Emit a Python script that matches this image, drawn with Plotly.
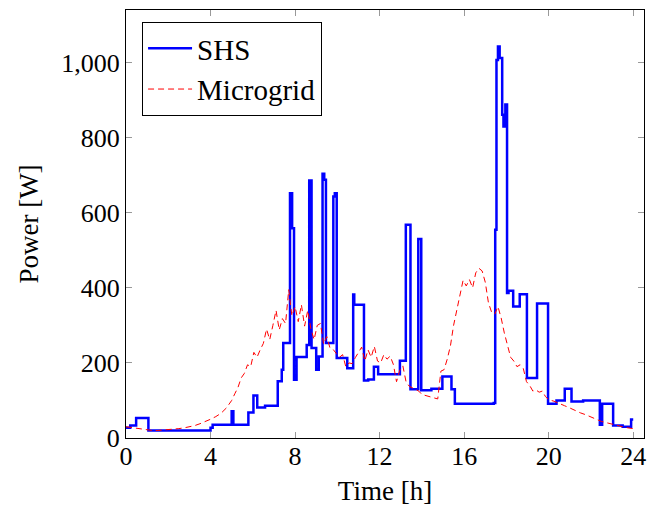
import plotly.graph_objects as go

# SHS step series (time in hours, power in W), drawn with hv steps
time_shs = [0.00, 0.20, 0.48, 1.06, 4.00, 4.10, 5.00, 5.08, 5.79, 6.03, 6.21, 6.58,
            7.18, 7.37, 7.44, 7.76, 7.86, 7.95, 8.07, 8.55, 8.67, 8.78, 9.00, 9.12,
            9.30, 9.38, 9.46, 9.81, 9.88, 9.97, 10.47, 10.75, 10.80, 11.26, 11.46,
            11.73, 11.93, 12.96, 13.24, 13.46, 13.83, 13.97, 14.45, 14.97, 15.40,
            15.56, 17.40, 17.47, 17.53, 17.60, 17.68, 17.80, 17.86, 17.95, 18.03,
            18.10, 18.32, 18.63, 18.97, 19.45, 19.97, 20.37, 20.76, 21.08, 21.63,
            22.42, 22.53, 23.05, 23.50, 23.90, 24.00]
power_shs = [27, 33, 53, 20, 27, 35, 71, 35, 68, 113, 81, 86,
             151, 182, 253, 652, 559, 155, 216, 248, 686, 240, 182, 217,
             704, 688, 253, 643, 652, 213, 186, 382, 355, 153, 156,
             190, 170, 206, 568, 130, 530, 127, 131, 164, 130,
             91, 93, 555, 1007, 1043, 1012, 861, 830, 888, 386,
             392, 350, 383, 160, 358, 91, 100, 131, 97, 100,
             35, 91, 33, 30, 49, 49]

# Microgrid series (time in hours, power in W)
time_mg = [0.00, 0.25, 0.50, 0.75, 1.00, 1.25, 1.50, 1.75, 2.00, 2.25, 2.50, 2.75,
           3.00, 3.25, 3.50, 3.75, 4.00, 4.25, 4.50, 4.75, 5.00, 5.15, 5.30, 5.45,
           5.60, 5.75, 5.90, 6.05, 6.20, 6.35, 6.50, 6.65, 6.80, 6.95, 7.10, 7.25,
           7.40, 7.55, 7.70, 7.85, 8.00, 8.15, 8.30, 8.45, 8.60, 8.75, 8.90, 9.05,
           9.20, 9.35, 9.50, 9.65, 9.80, 9.95, 10.10, 10.25, 10.40, 10.55, 10.70,
           10.85, 11.00, 11.15, 11.30, 11.45, 11.60, 11.75, 11.90, 12.05, 12.20,
           12.35, 12.50, 12.65, 12.80, 12.95, 13.10, 13.25, 13.40, 13.55, 13.70,
           13.85, 14.00, 14.25, 14.50, 14.75, 14.90, 15.05, 15.20, 15.35, 15.50,
           15.65, 15.80, 15.95, 16.10, 16.25, 16.40, 16.55, 16.70, 16.85, 17.00,
           17.15, 17.30, 17.45, 17.60, 17.75, 17.90, 18.05, 18.20, 18.35, 18.50,
           18.65, 18.80, 18.95, 19.10, 19.25, 19.40, 19.55, 19.70, 19.85, 20.00,
           20.25, 20.50, 20.75, 21.00, 21.25, 21.50, 21.75, 22.00, 22.25, 22.50,
           22.75, 23.00, 23.25, 23.50, 23.75, 24.00]
power_mg = [30, 28, 25, 22, 21, 20, 20, 21, 22, 23, 25, 27,
            29, 33, 38, 43, 50, 57, 66, 80, 100, 118, 135, 160,
            172, 195, 190, 228, 215, 235, 252, 290, 262, 300, 340, 288,
            318, 305, 395, 325, 350, 310, 355, 298, 340, 290, 262, 300,
            305, 250, 270, 240, 236, 225, 215, 222, 190, 200, 198,
            214, 230, 242, 205, 235, 215, 244, 205, 200, 222,
            210, 218, 196, 150, 180, 192, 150, 138, 133, 128,
            125, 116, 112, 108, 104, 178, 182, 210, 245, 300,
            340, 378, 420, 405, 422, 400, 440, 452, 445, 415,
            360, 335, 330, 350, 320, 280, 250, 215, 205, 190,
            195, 185, 150, 140, 125, 128, 122, 125, 110, 102,
            98, 93, 86, 80, 73, 67, 62, 57, 50, 44,
            40, 36, 33, 30, 27, 25]

font_family = "Liberation Serif"
fs = 26

fig = go.Figure()
fig.add_trace(go.Scatter(x=time_shs, y=power_shs, mode="lines", name="SHS",
                         line=dict(color="#0000ff", width=2.5, shape="hv")))
fig.add_trace(go.Scatter(x=time_mg, y=power_mg, mode="lines", name="Microgrid",
                         line=dict(color="#ff0000", width=1, dash="6px,4px")))

fig.update_layout(
    width=648, height=512,
    margin=dict(l=126, r=4, t=10, b=74, autoexpand=False),
    paper_bgcolor="white", plot_bgcolor="white",
    font=dict(family=font_family, size=fs, color="black"),
    showlegend=True,
    legend=dict(x=0.031, y=0.972, xanchor="left", yanchor="top",
                bgcolor="white", bordercolor="black", borderwidth=1,
                font=dict(family=font_family, size=29),
                itemwidth=44, tracegroupgap=0),
)
fig.update_xaxes(range=[0, 24.51], tickvals=[0, 4, 8, 12, 16, 20, 24],
                 automargin=False, ticklabelstandoff=-5,
                 showline=True, linecolor="black", linewidth=1, mirror="allticks",
                 ticks="inside", ticklen=6, tickcolor="#999999",
                 showgrid=False, zeroline=False,
                 title=dict(text="Time [h]", standoff=10,
                            font=dict(family=font_family, size=27)))
fig.update_yaxes(range=[0, 1140], tickvals=[0, 200, 400, 600, 800, 1000],
                 tickformat=",d", automargin=False,
                 showline=True, linecolor="black", linewidth=1, mirror="allticks",
                 ticks="inside", ticklen=6, tickcolor="#999999",
                 showgrid=False, zeroline=False,
                 title=dict(text="Power [W]", standoff=14,
                            font=dict(family=font_family, size=27)))

fig.write_html("out.html", config={"responsive": False, "displayModeBar": False},
               post_script="document.body.style.margin='0';document.body.style.overflow='hidden';")
